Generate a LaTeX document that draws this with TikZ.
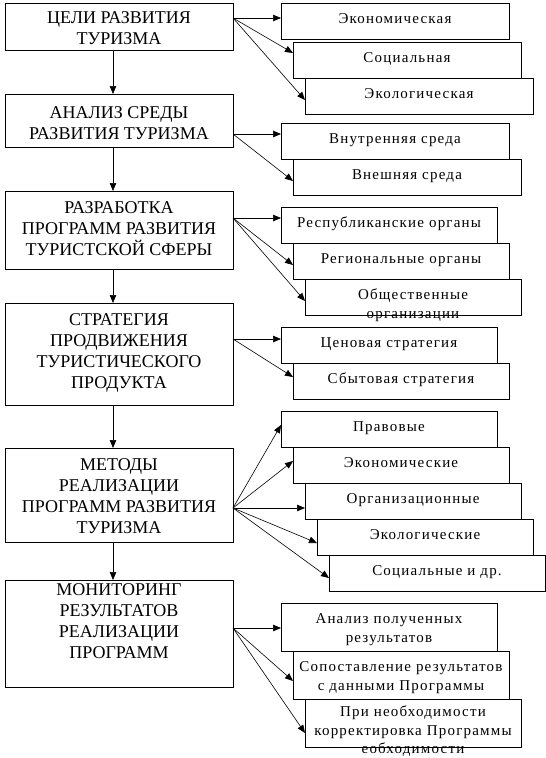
\documentclass[tikz,border=0pt]{standalone}
\usepackage{fontspec}
\setmainfont{Liberation Serif}
\newfontfamily\rfont[LetterSpace=8]{Liberation Serif}
\usetikzlibrary{arrows.meta}
\begin{document}
\begin{tikzpicture}[x=1pt,y=-1pt,
  lbox/.style={draw,line width=1pt,fill=white,inner sep=0pt,outer sep=0pt,minimum width=228pt},
  rbox/.style={draw,line width=1pt,fill=white,inner sep=0pt,outer sep=0pt,minimum width=216pt,minimum height=36pt},
  ltext/.style={inner sep=0pt,align=center,font=\fontsize{18}{21}\selectfont},
  rtext/.style={inner sep=0pt,anchor=north,align=center,font=\rfont\fontsize{15}{19}\selectfont},
  conn/.style={-{Triangle[length=8pt,width=6.5pt]},line width=0.6pt}]
\useasboundingbox (0,0) rectangle (546,758);

% left column boxes
\node[lbox,minimum height=47pt]  (b1) at (119,26.5) {};
\node[lbox,minimum height=53pt]  (b2) at (119,120.5) {};
\node[lbox,minimum height=78pt]  (b3) at (119,230) {};
\node[lbox,minimum height=102pt] (b4) at (119,354) {};
\node[lbox,minimum height=94pt]  (b5) at (119,495) {};
\node[lbox,minimum height=107pt] (b6) at (119,633.5) {};

\node[ltext] (l1) at (119,29.7) {\strut ЦЕЛИ РАЗВИТИЯ\\ТУРИЗМА\strut};
\node[ltext] (l2) at (119,124.7) {\strut АНАЛИЗ СРЕДЫ\\РАЗВИТИЯ ТУРИЗМА\strut};
\node[ltext] (l3) at (119,230.2) {\strut РАЗРАБОТКА\\ПРОГРАММ РАЗВИТИЯ\\ТУРИСТСКОЙ СФЕРЫ\strut};
\node[ltext] (l4) at (119,353.2) {\strut СТРАТЕГИЯ\\ПРОДВИЖЕНИЯ\\ТУРИСТИЧЕСКОГО\\ПРОДУКТА\strut};
\node[ltext] (l5) at (119,498.2) {\strut МЕТОДЫ\\РЕАЛИЗАЦИИ\\ПРОГРАММ РАЗВИТИЯ\\ТУРИЗМА\strut};
\node[ltext] (l6) at (119,623.2) {\strut МОНИТОРИНГ\\РЕЗУЛЬТАТОВ\\РЕАЛИЗАЦИИ\\ПРОГРАММ\strut};

% vertical arrows
\draw[conn] ([xshift=-6pt]b1.south) -- ([xshift=-6pt]b2.north);
\draw[conn] ([xshift=-6pt]b2.south) -- ([xshift=-6pt]b3.north);
\draw[conn] ([xshift=-6pt]b3.south) -- ([xshift=-6pt]b4.north);
\draw[conn] ([xshift=-6pt]b4.south) -- ([xshift=-6pt]b5.north);
\draw[conn] ([xshift=-6pt]b5.south) -- ([xshift=-6pt]b6.north);

% right boxes
\node[rbox,minimum width=228pt] (r11) at (395,21) {};
\node[rbox,minimum width=228pt] (r12) at (407,60) {};
\node[rbox,minimum width=228pt] (r13) at (419,96) {};
\node[rbox,minimum width=228pt] (r21) at (395,141) {};
\node[rbox,minimum width=228pt] (r22) at (407,177) {};
\node[rbox] (r31) at (389,225) {};
\node[rbox] (r32) at (401,261) {};
\node[rbox] (r33) at (413,297) {};
\node[rbox] (r41) at (389,345) {};
\node[rbox] (r42) at (401,381) {};
\node[rbox] (r51) at (389,429) {};
\node[rbox] (r52) at (401,465) {};
\node[rbox] (r53) at (413,501) {};
\node[rbox] (r54) at (425,537) {};
\node[rbox] (r55) at (437,573) {};
\node[rbox,minimum height=48pt] (r61) at (389,627) {};
\node[rbox,minimum height=48pt] (r62) at (401,675) {};
\node[rbox,minimum height=48pt] (r63) at (413,723) {};

\node[rtext] (t11) at ([yshift=-6.7pt]r11.north) {\strut Экономическая};
\node[rtext] (t12) at ([yshift=-6.7pt]r12.north) {\strut Социальная};
\node[rtext] (t13) at ([yshift=-6.7pt]r13.north) {\strut Экологическая};
\node[rtext] (t21) at ([yshift=-6.7pt]r21.north) {\strut Внутренняя среда};
\node[rtext] (t22) at ([yshift=-6.7pt]r22.north) {\strut Внешняя среда};
\node[rtext] (t31) at ([yshift=-6.7pt]r31.north) {\strut Республиканские органы};
\node[rtext] (t32) at ([yshift=-6.7pt]r32.north) {\strut Региональные органы};
\node[rtext] (t33) at ([yshift=-6.7pt]r33.north) {\strut Общественные\\организации};
\node[rtext] (t41) at ([yshift=-6.7pt]r41.north) {\strut Ценовая стратегия};
\node[rtext] (t42) at ([yshift=-6.7pt]r42.north) {\strut Сбытовая стратегия};
\node[rtext] (t51) at ([yshift=-6.7pt]r51.north) {\strut Правовые};
\node[rtext] (t52) at ([yshift=-6.7pt]r52.north) {\strut Экономические};
\node[rtext] (t53) at ([yshift=-6.7pt]r53.north) {\strut Организационные};
\node[rtext] (t54) at ([yshift=-6.7pt]r54.north) {\strut Экологические};
\node[rtext] (t55) at ([yshift=-6.7pt]r55.north) {\strut Социальные и др.};
\node[rtext] (t61) at ([yshift=-6.7pt]r61.north) {\strut Анализ полученных\\результатов};
\node[rtext] (t62) at ([yshift=-6.7pt]r62.north) {\strut Сопоставление результатов\\с данными Программы};
\node[rtext,font=\rfont\fontsize{15}{18.5}\selectfont] (t63) at ([yshift=-4.5pt]r63.north) {\strut При необходимости\\корректировка Программы\\еобходимости};

% origins of branching connectors
\coordinate (o1) at ([yshift=8.5pt]b1.east);
\coordinate (o2) at ([yshift=-13.5pt]b2.east);
\coordinate (o3) at ([yshift=12pt]b3.east);
\coordinate (o4) at ([yshift=15pt]b4.east);
\coordinate (o5) at ([yshift=-13pt]b5.east);
\coordinate (o6) at ([yshift=5.5pt]b6.east);

\draw[conn] (o1) -- ([yshift=3pt]r11.west);
\draw[conn] (o1) -- ([yshift=7pt]r12.west);
\draw[conn] (o1) -- ([yshift=-4pt]r13.west);

\draw[conn] (o2) -- ([yshift=7pt]r21.west);
\draw[conn] (o2) -- ([yshift=-4pt]r22.west);

\draw[conn] (o3) -- ([yshift=7pt]r31.west);
\draw[conn] (o3) -- ([yshift=-4pt]r32.west);
\draw[conn] (o3) -- ([yshift=-4pt]r33.west);

\draw[conn] (o4) -- ([yshift=6pt]r41.west);
\draw[conn] (o4) -- ([yshift=4pt]r42.west);

\draw[conn] (o5) -- ([yshift=4pt]r51.west);
\draw[conn] (o5) -- ([yshift=4pt]r52.west);
\draw[conn] (o5) -- ([yshift=-7pt]r53.west);
\draw[conn] (o5) -- ([yshift=-6pt]r54.west);
\draw[conn] (o5) -- ([yshift=-5pt]r55.west);

\draw[conn] (o6) -- ([yshift=-1pt]r61.west);
\draw[conn] (o6) -- ([yshift=-6pt]r62.west);
\draw[conn] (o6) -- ([yshift=-10pt]r63.west);
\end{tikzpicture}
\end{document}
